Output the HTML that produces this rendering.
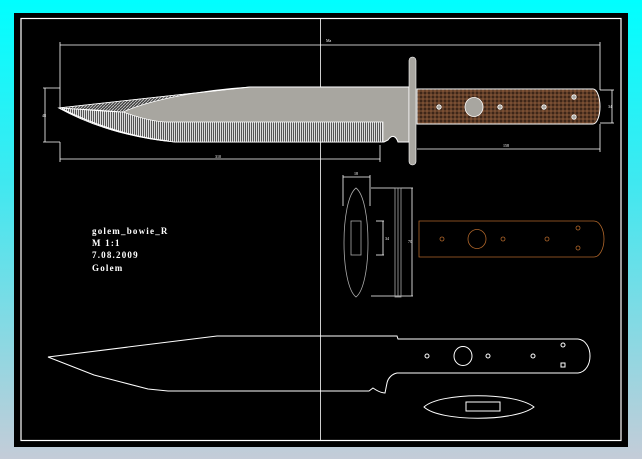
<!DOCTYPE html>
<html><head><style>
html,body{margin:0;padding:0;width:642px;height:459px;overflow:hidden;background:linear-gradient(#00ffff 0%,#40e8f0 40%,#c4ccd8 100%);}
svg{position:absolute;left:0;top:0}
text{font-family:"Liberation Serif",serif;fill:#fff}
</style></head><body>
<svg width="642" height="459" viewBox="0 0 642 459">
<defs>
<pattern id="hv" width="2" height="4" patternUnits="userSpaceOnUse"><rect width="2" height="4" fill="#555"/><rect width="1" height="4" fill="#ddd"/></pattern>
<pattern id="hd" width="3" height="3" patternUnits="userSpaceOnUse"><rect width="3" height="3" fill="#444"/><path d="M0 3L3 0" stroke="#ccc" stroke-width="0.8"/></pattern>
<pattern id="wood" width="4" height="4" patternUnits="userSpaceOnUse"><rect width="4" height="4" fill="#62402a"/><rect width="2" height="2" fill="#3e2618"/><rect x="2" y="2" width="2" height="2" fill="#7a4e32"/></pattern>
</defs>
<rect x="14" y="13" width="614" height="434" fill="#000"/>
<rect x="21" y="18.5" width="600" height="422" fill="none" stroke="#fff" stroke-width="1.2"/>
<line x1="320.5" y1="18" x2="320.5" y2="441" stroke="#fff" stroke-width="0.8"/>

<g stroke="#fff" stroke-width="0.8" fill="none">
<line x1="60" y1="45" x2="600" y2="45"/><line x1="60" y1="42" x2="60" y2="108"/><line x1="600" y1="42" x2="600" y2="90"/>
<line x1="60" y1="159" x2="380" y2="159"/><line x1="60" y1="142" x2="60" y2="162"/><line x1="380" y1="145" x2="380" y2="162"/>
<line x1="417" y1="149" x2="600" y2="149"/><line x1="600" y1="124" x2="600" y2="152"/>
<line x1="45" y1="88" x2="45" y2="142"/><line x1="43" y1="88" x2="60" y2="88"/><line x1="43" y1="142" x2="60" y2="142"/>
<line x1="612" y1="90" x2="612" y2="123"/><line x1="600" y1="90" x2="614" y2="90"/><line x1="600" y1="123" x2="614" y2="123"/>
</g>
<text x="326" y="42" font-size="4">Ma</text>
<text x="215" y="158" font-size="4">310</text>
<text x="503" y="147" font-size="4">158</text>
<text x="42" y="117" font-size="4">48</text>
<text x="608" y="108" font-size="4">34</text>

<path d="M59 108 L250 87 L409 87 L409 142 L398 142 C396 136 392 134 388 140 L384 142 L175 142 C130 138 90 125 59 108Z" fill="#a8a6a0" stroke="#fff" stroke-width="1"/>
<path d="M59 108 L250 87 C200 90 150 100 123 112 C100 110 80 109 59 108Z" fill="url(#hd)" stroke="#fff" stroke-width="0.7"/>
<path d="M59 108 C90 110 110 112 123 112 C140 118 155 122 167 122 L383 122 L383 142 L175 142 C130 138 90 125 59 108Z" fill="url(#hv)" stroke="#fff" stroke-width="0.7"/>
<path d="M62 109 C95 125 130 137 168 141" stroke="#fff" fill="none" stroke-width="1.2"/>
<rect x="409" y="57" width="7" height="108" rx="3.5" fill="#a8a6a0" stroke="#fff" stroke-width="0.6"/>
<path d="M417 89 L593 89 A7 17.5 0 0 1 593 124 L417 124Z" fill="url(#wood)" stroke="#fff" stroke-width="1"/>
<g fill="#a8a6a0" stroke="#fff" stroke-width="0.8">
<ellipse cx="474" cy="107" rx="9" ry="9.5"/>
<circle cx="439" cy="107" r="2.2"/><circle cx="500" cy="107" r="2.2"/><circle cx="544" cy="107" r="2.2"/>
<circle cx="574" cy="97" r="2.2"/><circle cx="574" cy="117" r="2.2"/>
</g>

<g font-size="9" letter-spacing="1.2" font-weight="bold">
<text x="92" y="234">golem_bowie_R</text>
<text x="92" y="246">M 1:1</text>
<text x="92" y="258">7.08.2009</text>
<text x="92" y="271">Golem</text>
</g>

<g fill="none" stroke-width="0.8">
<path d="M356 188 C340 200 340 285 356 297 C372 285 372 200 356 188Z" stroke="#aaa"/>
<rect x="351" y="221" width="10" height="34" stroke="#aaa"/>
<g stroke="#fff"><line x1="343" y1="177" x2="370" y2="177"/><line x1="343" y1="175" x2="343" y2="206"/><line x1="370" y1="175" x2="370" y2="206"/>
<line x1="376" y1="221" x2="384" y2="221"/><line x1="376" y1="255" x2="384" y2="255"/><line x1="383" y1="221" x2="383" y2="255"/>
<line x1="371" y1="188" x2="413" y2="188"/><line x1="371" y1="296" x2="413" y2="296"/><line x1="412" y1="188" x2="412" y2="296"/></g>
<rect x="395" y="188" width="6" height="109" stroke="#aaa"/>
<line x1="398" y1="188" x2="398" y2="297" stroke="#aaa"/>
<path d="M419 221 L594 221 A10 18 0 0 1 594 257 L419 257Z" stroke="#b0662a"/>
<g stroke="#b0662a"><circle cx="442" cy="239" r="2"/><ellipse cx="477" cy="239" rx="9" ry="9.5"/><circle cx="503" cy="239" r="2"/><circle cx="547" cy="239" r="2"/><circle cx="578" cy="228" r="2"/><circle cx="578" cy="248" r="2"/></g>
</g>
<text x="354" y="175" font-size="4">18</text>
<text x="385" y="240" font-size="4">34</text>
<text x="408" y="243" font-size="4">70</text>

<g fill="none" stroke="#fff" stroke-width="1">
<path d="M48 357 L217 336 L397 336 L398 339 L578 339 C594 341 594 371 578 373 L397 373 C392 374 388 378 387 383 L385 393 C380 393 376 390 373 388 L369 391 L168 391 L148 389 L94 375 Z"/>
<circle cx="427" cy="356" r="2"/><ellipse cx="463" cy="356" rx="9" ry="9.5"/><circle cx="488" cy="356" r="2"/><circle cx="533" cy="356" r="2"/>
<circle cx="563" cy="345" r="2"/><rect x="561" y="363" width="4" height="4"/>
<path d="M424 407 C440 392 515 392 534 407 C515 422 440 422 424 407Z"/>
<rect x="466" y="402" width="34" height="9"/>
</g>
</svg>
</body></html>
